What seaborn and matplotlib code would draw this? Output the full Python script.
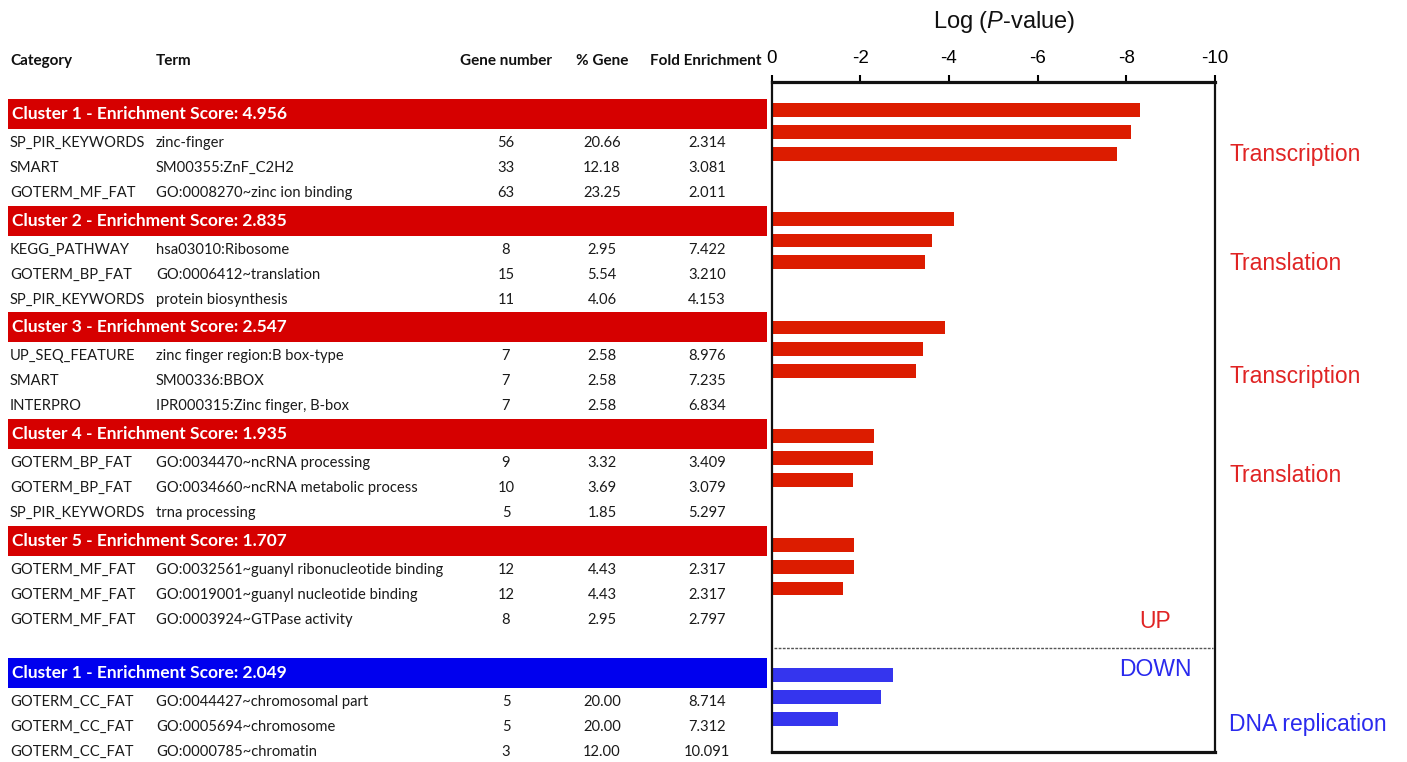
import numpy as np
import pandas as pd
import matplotlib
matplotlib.use("Agg")
import matplotlib.pyplot as plt
import seaborn as sns

# Data
cluster_titles = ["Cluster 1 - Enrichment Score: 4.956",
                  "Cluster 2 - Enrichment Score: 2.835",
                  "Cluster 3 - Enrichment Score: 2.547",
                  "Cluster 4 - Enrichment Score: 1.935",
                  "Cluster 5 - Enrichment Score: 1.707",
                  "Cluster 1 - Enrichment Score: 2.049"]
cluster_dir = ["UP", "UP", "UP", "UP", "UP", "DOWN"]

categories = ["SP_PIR_KEYWORDS", "SMART", "GOTERM_MF_FAT",
              "KEGG_PATHWAY", "GOTERM_BP_FAT", "SP_PIR_KEYWORDS",
              "UP_SEQ_FEATURE", "SMART", "INTERPRO",
              "GOTERM_BP_FAT", "GOTERM_BP_FAT", "SP_PIR_KEYWORDS",
              "GOTERM_MF_FAT", "GOTERM_MF_FAT", "GOTERM_MF_FAT",
              "GOTERM_CC_FAT", "GOTERM_CC_FAT", "GOTERM_CC_FAT"]
terms = ["zinc-finger", "SM00355:ZnF_C2H2", "GO:0008270~zinc ion binding",
         "hsa03010:Ribosome", "GO:0006412~translation", "protein biosynthesis",
         "zinc finger region:B box-type", "SM00336:BBOX", "IPR000315:Zinc finger, B-box",
         "GO:0034470~ncRNA processing", "GO:0034660~ncRNA metabolic process", "trna processing",
         "GO:0032561~guanyl ribonucleotide binding", "GO:0019001~guanyl nucleotide binding",
         "GO:0003924~GTPase activity",
         "GO:0044427~chromosomal part", "GO:0005694~chromosome", "GO:0000785~chromatin"]
gene_number = ["56", "33", "63", "8", "15", "11", "7", "7", "7",
               "9", "10", "5", "12", "12", "8", "5", "5", "3"]
pct_gene = ["20.66", "12.18", "23.25", "2.95", "5.54", "4.06", "2.58", "2.58", "2.58",
            "3.32", "3.69", "1.85", "4.43", "4.43", "2.95", "20.00", "20.00", "12.00"]
fold_enrichment = ["2.314", "3.081", "2.011", "7.422", "3.210", "4.153",
                   "8.976", "7.235", "6.834", "3.409", "3.079", "5.297",
                   "2.317", "2.317", "2.797", "8.714", "7.312", "10.091"]
log_p = [-8.32, -8.10, -7.80, -4.12, -3.62, -3.47, -3.91, -3.42, -3.26,
         -2.31, -2.28, -1.83, -1.85, -1.85, -1.61, -2.74, -2.47, -1.50]

side_labels = ["Transcription", "Translation", "Transcription", "Translation", "DNA replication"]

# styling
bar_colors = {"UP": "#dc1c00", "DOWN": "#3535ee"}
band_colors = {"UP": "#d60000", "DOWN": "#0000ee"}
text_colors = {"UP": "#e02424", "DOWN": "#2a2aee"}
table_font = "Lato"
arial = "Liberation Sans"

plt.rcParams["mathtext.fontset"] = "custom"
plt.rcParams["mathtext.rm"] = arial
plt.rcParams["mathtext.it"] = arial + ":italic"

rows = [f"r{i}" for i in range(len(log_p))]
df = pd.DataFrame({"row": rows, "logp": log_p,
                   "direction": [cluster_dir[i // 3] for i in range(len(log_p))]})

# bar slots: 3 bars per cluster, blank slots between clusters
order = []
gaps = [2, 2, 2, 2, 3]
for k in range(len(cluster_titles)):
    order += rows[3 * k:3 * k + 3]
    if k < len(gaps):
        order += [f"gap{k}_{j}" for j in range(gaps[k])]

W, H = 1407, 762
fig = plt.figure(figsize=(W / 100, H / 100), dpi=100)

# overlay axes in pixel coords for the table
ax_t = fig.add_axes([0, 0, 1, 1], zorder=0)
ax_t.set_xlim(0, W)
ax_t.set_ylim(H, 0)
ax_t.axis("off")

ax = fig.add_axes([771.5 / W, (H - 752) / H, (1215 - 771.5) / W, (752 - 82) / H], zorder=1)
ax.patch.set_alpha(0)
sns.barplot(data=df, x="logp", y="row", hue="direction", order=order,
            palette=bar_colors, saturation=1, width=0.64, dodge=False,
            orient="h", legend=False, ax=ax)
ax.set_xlim(0, -10)
ax.set_ylim(29.52, -1.29)
ax.set_xticks([0, -2, -4, -6, -8, -10])
ax.set_xticklabels(["0", "-2", "-4", "-6", "-8", "-10"], fontfamily=arial)
ax.xaxis.tick_top()
ax.tick_params(axis="x", direction="out", length=5, width=1.5, labelsize=13.5, pad=6)
ax.set_yticks([])
ax.set_xlabel("")
ax.set_ylabel("")
for side, lw in [("top", 2.3), ("bottom", 2.3), ("left", 1.6), ("right", 1.6)]:
    ax.spines[side].set_linewidth(lw)
    ax.spines[side].set_color("#111111")
ax.axhline(24.74, color="#555555", lw=1, ls=(0, (2, 1)), xmin=0.005, xmax=0.995)

# axis title
ax_t.text(1004, 22, r"Log ($\it{P}$-value)", fontsize=17, fontfamily=arial,
          ha="center", va="center", color="#111111")

# table header
hdr_y = 61
hdr_kw = dict(fontfamily=table_font, fontweight="bold", fontsize=11, va="center", color="#111111")
ax_t.text(10, hdr_y, "Category", ha="left", **hdr_kw)
ax_t.text(156, hdr_y, "Term", ha="left", **hdr_kw)
ax_t.text(506, hdr_y, "Gene number", ha="center", **hdr_kw)
ax_t.text(602, hdr_y, "% Gene", ha="center", **hdr_kw)
ax_t.text(706, hdr_y, "Fold Enrichment", ha="center", **hdr_kw)

band_tops = [99, 206, 312, 419, 526, 658]
for k, title in enumerate(cluster_titles):
    top = band_tops[k]
    ax_t.add_patch(plt.Rectangle((8, top), 759, 30, color=band_colors[cluster_dir[k]], lw=0))
    ax_t.text(12, top + 15, title, fontfamily=table_font, fontweight="bold", fontsize=12.5,
              color="white", ha="left", va="center")
    for j in range(3):
        i = 3 * k + j
        y = top + 44 + 25 * j
        kw = dict(fontfamily=table_font, fontsize=10.6, va="center", color="#1a1a1a")
        ax_t.text(10, y, categories[i], ha="left", **kw)
        ax_t.text(156, y, terms[i], ha="left", **kw)
        ax_t.text(506, y, gene_number[i], ha="center", **kw)
        ax_t.text(602, y, pct_gene[i], ha="center", **kw)
        ax_t.text(707, y, fold_enrichment[i], ha="center", **kw)

# side annotations
side_y = [155, 264, 377, 476, 724]
for lab, y in zip(side_labels, side_y):
    c = text_colors["DOWN"] if lab == "DNA replication" else text_colors["UP"]
    ax_t.text(1229, y, lab, fontfamily=arial, fontsize=16.5, color=c, ha="left", va="center")
ax_t.text(1155, 622, "UP", fontfamily=arial, fontsize=16.5, color=text_colors["UP"],
          ha="center", va="center")
ax_t.text(1155, 669, "DOWN", fontfamily=arial, fontsize=16.5, color=text_colors["DOWN"],
          ha="center", va="center")

fig.savefig("out.png", dpi=100)
